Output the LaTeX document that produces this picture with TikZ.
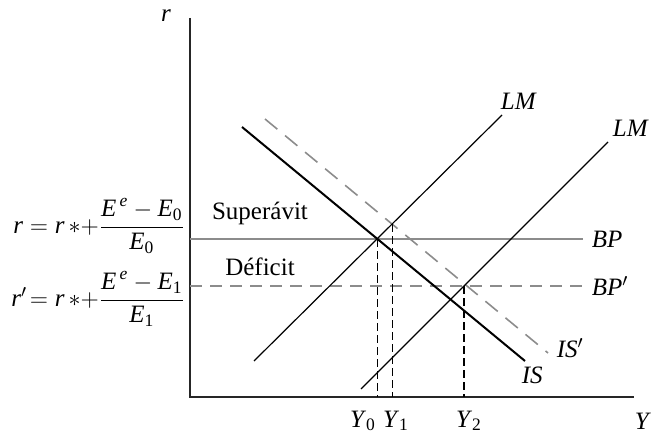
\documentclass[tikz,border=0pt]{standalone}
\usepackage{amsmath}
\usepackage{fontspec}
\setmainfont{Liberation Serif}
\usepackage{xcolor}
\definecolor{bpgray}{RGB}{140,140,140}

\begin{document}
\begin{tikzpicture}[x=0.5pt,y=0.5pt,yscale=-1,xscale=1,
  axisline/.style={draw=black!85,line width=0.7pt},
  isline/.style={draw=black,line width=1pt},
  lmline/.style={draw=black,line width=0.6pt},
  bpline/.style={draw=bpgray,line width=0.8pt},
  shiftline/.style={draw=bpgray,line width=0.8pt,dash pattern=on 8pt off 5pt},
  bpshift/.style={draw=bpgray,line width=0.8pt,dash pattern=on 6pt off 4pt},
  guide/.style={draw=black,line width=0.6pt,dash pattern=on 4pt off 2pt},
  lbl/.style={inner sep=0.75pt,font=\fontsize{12.5}{15}\selectfont},
  eqn/.style={inner sep=0.75pt,font=\fontsize{12.5}{15}\selectfont}]
\useasboundingbox (0,0) rectangle (651,438);

% Axes
\coordinate (O) at (190,397);
\coordinate (ytop) at (190,18);
\coordinate (xend) at (634,397);
\draw [axisline] (ytop) -- (O) -- (xend);

% Curve end points
\coordinate (ISs) at (242,127);
\coordinate (ISe) at (525,361);
\coordinate (ISbs) at (265,119);
\coordinate (ISbe) at (548,353);
\coordinate (LMas) at (254,361);
\coordinate (LMae) at (502,115);
\coordinate (LMbs) at (361,389);
\coordinate (LMbe) at (608,142);
\coordinate (BPs) at (190,239);
\coordinate (BPe) at (583,239);
\coordinate (BPbs) at (190,286);
\coordinate (BPbe) at (583,286);

% Equilibria
\coordinate (E0) at (intersection of ISs--ISe and BPs--BPe);
\coordinate (E1) at (intersection of LMas--LMae and ISbs--ISbe);
\coordinate (E2) at (intersection of LMbs--LMbe and BPbs--BPbe);

%Straight Lines
\draw [bpline] (BPs) -- (BPe);
\draw [bpshift] (BPbs) -- (BPbe);
\draw [shiftline] (ISbs) -- (ISbe);
\draw [lmline] (LMas) -- (LMae);
\draw [lmline] (LMbs) -- (LMbe);
\draw [isline] (ISs) -- (ISe);

%Dashed guides
\draw [guide] (E0) -- (E0 |- O);
\draw [guide] (E1) -- (E1 |- O);
\draw [guide] (E2) -- (E2 |- O);

% Text Node
\node [lbl] (rlab) at (166,16) {\textit{r}};
\node [lbl] (ylab) at (643,421) {\textit{Y}};
\node [lbl] (y0) at (363,421) {\textit{Y}$_{\text{0}}$};
\node [lbl] (y1) at (396,421) {\textit{Y}$_{\text{1}}$};
\node [lbl] (y2) at (469,421) {\textit{Y}$_{\text{2}}$};
\node [lbl,anchor=south west] (lma) at (499,111) {\textit{LM}};
\node [lbl,anchor=south west] (lmb) at (611,138) {\textit{LM}};
\node [lbl,anchor=west] (bp) at (590,239) {\textit{BP}};
\node [lbl,anchor=west] (bpb) at (590,286) {\textit{BP}$'$};
\node [lbl,anchor=west] (isb) at (555,348) {\textit{IS}$'$};
\node [lbl,anchor=west] (is) at (520,375) {\textit{IS}};
\node [lbl] (sup) at (260,213) {Superávit};
\node [lbl] (def) at (260,267) {Déficit};
\node [eqn,anchor=east] (eqa) at (187,226)
  {$\textit{r}=\textit{r}\,{*}{+}\dfrac{\textit{E}^{\,\textit{e}}-\textit{E}_{\text{0}}}{\textit{E}_{\text{0}}}$};
\node [eqn,anchor=east] (eqb) at (187,299)
  {$\textit{r}'\!=\textit{r}\,{*}{+}\dfrac{\textit{E}^{\,\textit{e}}-\textit{E}_{\text{1}}}{\textit{E}_{\text{1}}}$};

\end{tikzpicture}
\end{document}
